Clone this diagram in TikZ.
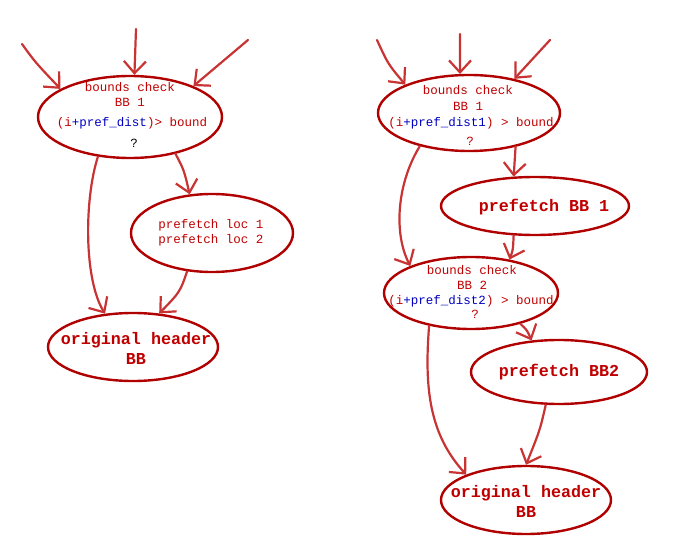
\documentclass[tikz,border=0pt]{standalone}
\usepackage{fontspec}
\setmonofont{Liberation Mono}
\usetikzlibrary{arrows.meta,shapes.geometric}
\definecolor{edge}{HTML}{B00000}
\definecolor{arr}{HTML}{C83434}
\definecolor{txt}{HTML}{C00000}
\definecolor{blu}{HTML}{0000C0}
\tikzset{
  bb/.style={draw=edge,line width=2.4pt,ellipse,inner sep=0pt},
  sm/.style={anchor=base,inner sep=0pt,text=txt,font=\ttfamily\fontsize{12.5}{15}\selectfont},
  lg/.style={anchor=base,inner sep=0pt,text=txt,font=\ttfamily\bfseries\fontsize{16.7}{20}\selectfont},
  flow/.style={draw=arr,line width=2.2pt,line cap=round,-{Straight Barb[length=12pt,width=22pt,line width=2.2pt]}},
}
\begin{document}
\begin{tikzpicture}[x=1pt,y=-1pt]
\useasboundingbox[fill=white] (0,0) rectangle (678,556);
% left ellipses
\node[bb,minimum width=184pt,minimum height=82pt] (e1) at (130,117) {};
\node[bb,minimum width=162pt,minimum height=78pt] (e2) at (212,233) {};
\node[bb,minimum width=170pt,minimum height=68pt] (e3) at (133,347) {};
% right ellipses
\node[bb,minimum width=182pt,minimum height=76pt] (r1) at (469,113) {};
\node[bb,minimum width=188pt,minimum height=58pt] (r2) at (535,206) {};
\node[bb,minimum width=174pt,minimum height=72pt] (r3) at (471,293) {};
\node[bb,minimum width=176pt,minimum height=64pt] (r4) at (559,372) {};
\node[bb,minimum width=170pt,minimum height=68pt] (r5) at (526,500) {};
% texts left
\node[sm] (e1a) at (130,92) {bounds check};
\node[sm] (e1b) at (130,107) {BB 1};
\node[sm] (e1c) at (132,127) {(i\textcolor{blu}{+pref\_dist})> bound};
\node[sm,text=black] (e1d) at (134,148) {?};
\node[sm] (e2a) at (211,229) {prefetch loc 1};
\node[sm] (e2b) at (211,244) {prefetch loc 2};
\node[lg] (e3a) at (136,344.5) {original header};
\node[lg] (e3b) at (136,364.5) {BB};
% texts right
\node[sm] (r1a) at (468,95) {bounds check};
\node[sm] (r1b) at (468,111) {BB 1};
\node[sm] (r1c) at (471,127) {(i\textcolor{blu}{+pref\_dist1}) > bound};
\node[sm] (r1d) at (470,146) {?};
\node[lg] (r2a) at (544,211.5) {prefetch BB 1};
\node[sm] (r3a) at (472,275) {bounds check};
\node[sm] (r3b) at (472,290) {BB 2};
\node[sm] (r3c) at (471,305) {(i\textcolor{blu}{+pref\_dist2}) > bound};
\node[sm] (r3d) at (475,319) {?};
\node[lg] (r4a) at (559,376.5) {prefetch BB2};
\node[lg] (r5a) at (526,497.5) {original header};
\node[lg] (r5b) at (526,517.5) {BB};
% incoming arrows
\coordinate (l1) at (22,44);
\coordinate (l2) at (136,29);
\coordinate (l3) at (248,40);
\coordinate (q1) at (377,40);
\coordinate (q2) at (460,34);
\coordinate (q3) at (550,40);
\draw[flow] (l1) .. controls (35,62) .. (e1.158);
\draw[flow] (l2) -- (e1.84);
\draw[flow] (l3) -- (e1.26.6);
\draw[flow] (q1) .. controls (388,64) .. (r1.156);
\draw[flow] (q2) -- (r1.103);
\draw[flow] (q3) -- (r1.37.7);
% left connectors
\draw[flow] (e1.-129.5) .. controls (84,200) and (84,280) .. (e3.130);
\draw[flow] (e1.-39.6) .. controls (184,170) .. (e2.120.7);
\draw[flow] (e2.-123) .. controls (180,292) .. (e3.52);
% right connectors
\draw[flow] (r1.-146) .. controls (396,185) and (394,235) .. (r3.156);
\draw[flow] (r1.-36.9) .. controls (515,160) .. (r2.126);
\draw[flow] (r2.-126) .. controls (513,250) .. (r3.41.7);
\draw[flow] (r3.-32) .. controls (527,330) .. (r4.131);
\draw[flow] (r3.-142) .. controls (424,390) and (430,435) .. (r5.157.7);
\draw[flow] (r4.-112) .. controls (540,430) .. (r5.90);
\end{tikzpicture}
\end{document}
